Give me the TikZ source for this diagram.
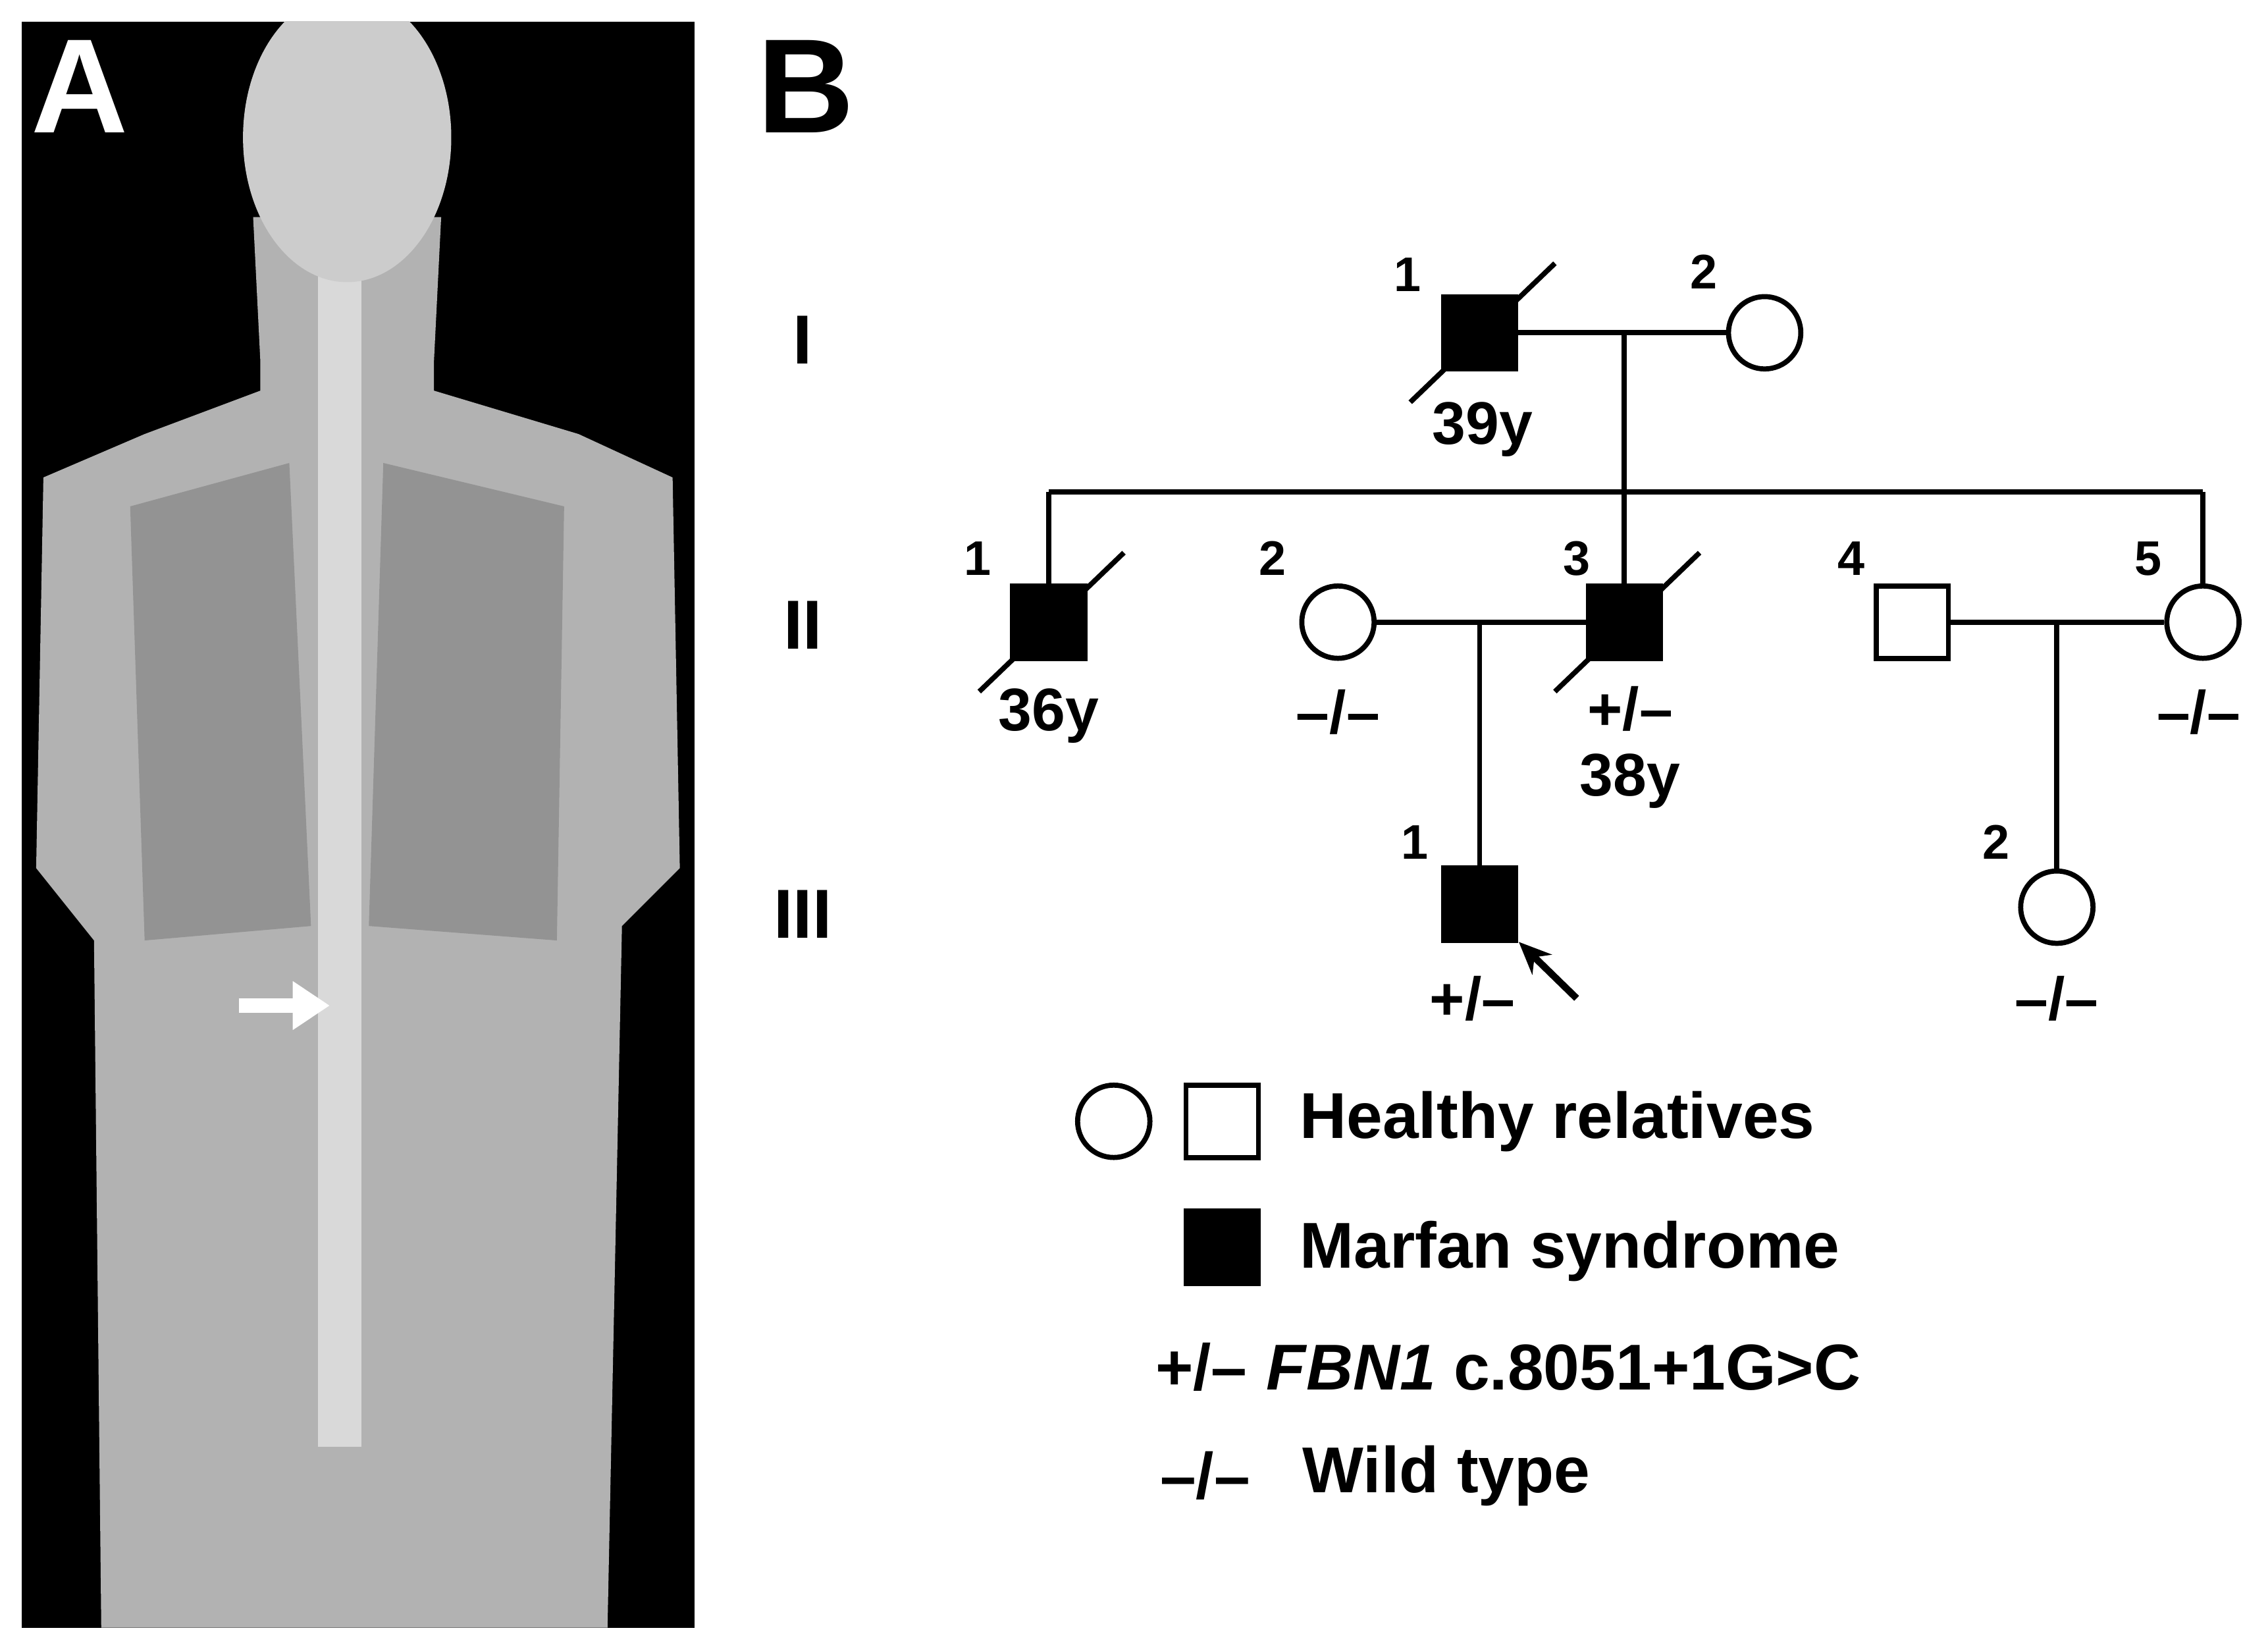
\documentclass[tikz,border=0pt]{standalone}
\usepackage{fontspec}
\setmainfont{Liberation Sans}
\usetikzlibrary{arrows.meta}
\begin{document}
\begin{tikzpicture}[x=0.02197cm,y=-0.02197cm,
  lw/.style={line width=2.2pt},
  sq/.style={draw,lw,minimum size=50*0.02197cm,inner sep=0pt},
  aff/.style={sq,fill=black},
  ci/.style={draw,lw,circle,minimum size=50*0.02197cm,inner sep=0pt},
  lab/.style={font=\fontsize{21}{24}\selectfont\bfseries},
  gen/.style={font=\fontsize{30}{34}\selectfont\bfseries},
  leg/.style={font=\fontsize{28}{32}\selectfont\bfseries,anchor=west},
  dead/.style={lw}]
\useasboundingbox (0,0) rectangle (1568,1138);
\fill[white] (0,0) rectangle (1568,1138);
% Panel A
\fill[black] (15,15) rectangle (480,1125);
\begin{scope}
\clip (15,15) rectangle (480,1125);
\fill[gray!60] (175,150) -- (305,150) -- (300,250) -- (300,270) -- (400,300) -- (465,330) -- (470,600) -- (430,640) -- (420,1125) -- (70,1125) -- (65,650) -- (25,600) -- (30,330) -- (100,300) -- (180,270) -- (180,250) -- cycle;
\fill[gray!85] (90,350) -- (200,320) -- (215,640) -- (100,650) -- cycle;
\fill[gray!85] (390,350) -- (265,320) -- (255,640) -- (385,650) -- cycle;
\fill[gray!30] (220,160) rectangle (250,1000);
\fill[gray!40] (240,95) ellipse (72 and 100);
\end{scope}
\node[text=white,font=\fontsize{58}{60}\selectfont\bfseries] (A) at (55,60) {A};
\draw[white,line width=6pt,-{Triangle[length=16pt,width=20pt]}] (165,695) -- (228,695);
% Panel B
\node[font=\fontsize{58}{60}\selectfont\bfseries] (B) at (557,60) {B};
\node[gen] (gI) at (555,235) {I};
\node[gen] (gII) at (555,432) {II};
\node[gen] (gIII) at (555,632) {III};
% gen I
\node[aff] (i1) at (1023,230) {};
\node[ci] (i2) at (1220,230) {};
\draw[dead] (975,278) -- (1075,182);
\node[lab] at (973,190) {1};
\node[lab] at (1178,188) {2};
\node[lab,font=\fontsize{26}{30}\selectfont\bfseries] at (1025,297) {39y};
\draw[lw] (i1.east) -- (i2.west);
\coordinate (m1) at (1123,230);
\coordinate (s1) at (1123,340);
\draw[lw] (m1) -- (s1);
\coordinate (sL) at (725,340);
\coordinate (sR) at (1523,340);
\draw[lw] (sL) -- (sR);
% gen II
\node[aff] (ii1) at (725,430) {};
\node[ci] (ii2) at (925,430) {};
\node[aff] (ii3) at (1123,430) {};
\node[sq] (ii4) at (1322,430) {};
\node[ci] (ii5) at (1523,430) {};
\draw[lw] (sL) -- (ii1.north);
\draw[lw] (s1) -- (ii3.north);
\draw[lw] (sR) -- (ii5.north);
\draw[dead] (677,478) -- (777,382);
\draw[dead] (1075,478) -- (1175,382);
\node[lab] at (676,386) {1};
\node[lab] at (880,386) {2};
\node[lab] at (1090,386) {3};
\node[lab] at (1280,386) {4};
\node[lab] at (1485,386) {5};
\node[lab,font=\fontsize{26}{30}\selectfont\bfseries] at (725,495) {36y};
\node[lab,font=\fontsize{26}{30}\selectfont\bfseries] at (925,492) {–/–};
\node[lab,font=\fontsize{26}{30}\selectfont\bfseries] at (1127,490) {+/–};
\node[lab,font=\fontsize{26}{30}\selectfont\bfseries] at (1127,540) {38y};
\node[lab,font=\fontsize{26}{30}\selectfont\bfseries] at (1520,492) {–/–};
\draw[lw] (ii2.east) -- (ii3.west);
\draw[lw] (ii4.east) -- (ii5.west);
% gen III
\node[aff] (iii1) at (1023,625) {};
\node[ci] (iii2) at (1422,627) {};
\draw[lw] (1023,430) -- (iii1.north);
\draw[lw] (1422,430) -- (iii2.north);
\node[lab] at (978,582) {1};
\node[lab] at (1380,582) {2};
\node[lab,font=\fontsize{26}{30}\selectfont\bfseries] at (1018,690) {+/–};
\node[lab,font=\fontsize{26}{30}\selectfont\bfseries] at (1422,690) {–/–};
\coordinate (pa) at (1090,690);
\draw[line width=3pt,-{Stealth[length=14pt,width=12pt]}] (pa) -- (1050,651);
% legend
\node[ci] (lc) at (770,775) {};
\node[sq] (ls) at (845,775) {};
\node[leg] at (893,775) {Healthy relatives};
\node[aff] (la) at (845,862) {};
\node[leg] at (893,865) {Marfan syndrome};
\node[leg,anchor=east] at (868,945) {+/–};
\node[leg] at (870,945) {\textit{FBN1} c.8051+1G>C};
\node[leg,anchor=east] at (870,1020) {–/–};
\node[leg] at (895,1020) {Wild type};
\end{tikzpicture}
\end{document}
